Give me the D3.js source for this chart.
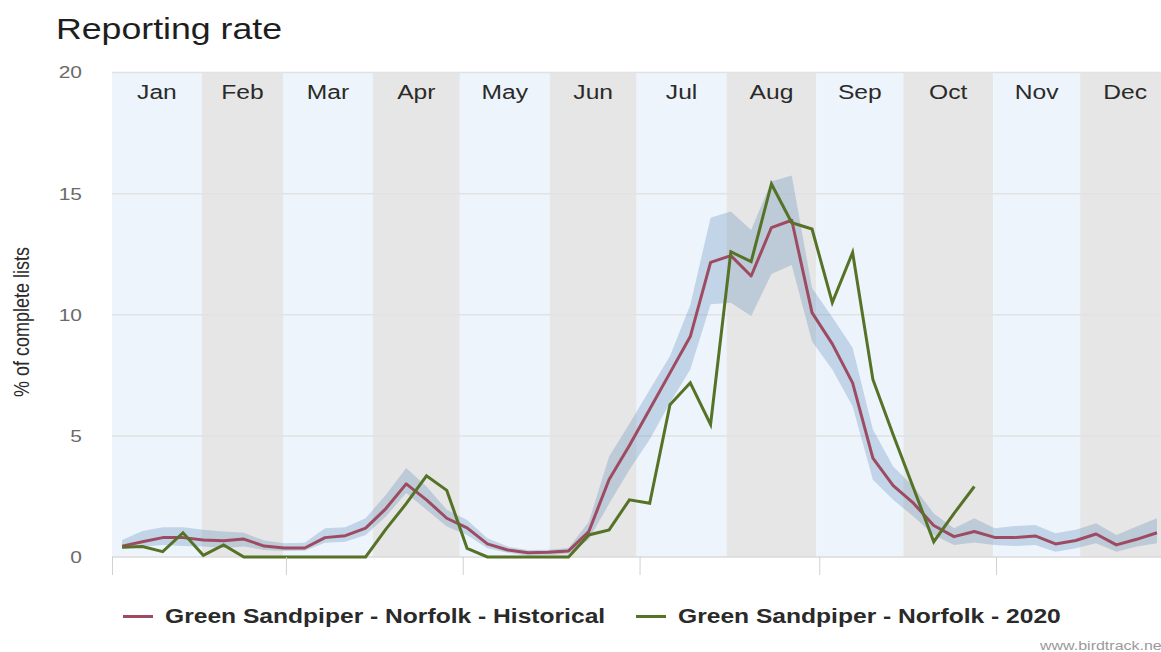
<!DOCTYPE html>
<html>
<head>
<meta charset="utf-8">
<script src="https://cdn.jsdelivr.net/npm/d3@7"></script>
<style>
  body { margin: 0; background: #fff; }
  svg { display: block; }
  text { font-family: "Liberation Sans", Arial, sans-serif; }
</style>
</head>
<body>
<svg id="chart" width="1161" height="652"></svg>
<script>
// Month bands (day-of-year boundaries) and labels
const months = ["Jan", "Feb", "Mar", "Apr", "May", "Jun", "Jul", "Aug", "Sep", "Oct", "Nov", "Dec"];
const monthStartDay = [0, 31, 59, 90, 120, 151, 181, 212, 243, 273, 304, 334, 365];

// Weekly reporting rate (% of complete lists), weeks 1..52
const weeks = d3.range(1, 53);
const historical = [
  0.45, 0.63, 0.80, 0.80, 0.70, 0.67, 0.74, 0.45, 0.37, 0.37,
  0.80, 0.88, 1.19, 2.00, 3.02, 2.36, 1.60, 1.20, 0.54, 0.29,
  0.18, 0.20, 0.25, 1.05, 3.20, 4.60, 6.10, 7.60, 9.10, 12.16,
  12.44, 11.60, 13.60, 13.90, 10.09, 8.80, 7.19, 4.08, 2.95, 2.22,
  1.30, 0.84, 1.05, 0.81, 0.80, 0.87, 0.54, 0.68, 0.95, 0.50,
  0.73, 1.00
];
const historicalUpper = [
  0.70, 1.07, 1.23, 1.23, 1.12, 1.05, 1.00, 0.68, 0.57, 0.59,
  1.19, 1.23, 1.60, 2.57, 3.67, 2.91, 1.95, 1.53, 0.77, 0.43,
  0.29, 0.30, 0.37, 1.45, 4.15, 5.50, 6.90, 8.30, 10.40, 14.00,
  14.26, 13.50, 15.50, 15.75, 11.10, 9.90, 8.64, 5.26, 3.74, 2.91,
  1.80, 1.19, 1.60, 1.19, 1.28, 1.32, 0.98, 1.12, 1.39, 0.91,
  1.26, 1.60
];
const historicalLower = [
  0.33, 0.43, 0.50, 0.45, 0.43, 0.37, 0.43, 0.29, 0.25, 0.26,
  0.59, 0.63, 0.91, 1.67, 2.64, 1.95, 1.26, 0.91, 0.36, 0.18,
  0.05, 0.08, 0.14, 0.72, 2.20, 3.60, 4.85, 6.37, 7.74, 10.43,
  10.50, 9.95, 11.68, 12.05, 8.90, 7.74, 6.22, 3.19, 2.36, 1.67,
  0.91, 0.50, 0.60, 0.50, 0.45, 0.50, 0.22, 0.36, 0.57, 0.22,
  0.43, 0.57
];
const year2020 = [
  0.40, 0.43, 0.22, 1.00, 0.07, 0.50, 0.00, 0.00, 0.00, 0.00,
  0.00, 0.00, 0.00, 1.15, 2.20, 3.35, 2.75, 0.36, 0.00, 0.00,
  0.00, 0.00, 0.00, 0.91, 1.12, 2.36, 2.22, 6.29, 7.19, 5.47,
  12.60, 12.19, 15.40, 13.80, 13.54, 10.50, 12.57, 7.33, 5.05, 2.85,
  0.63, 1.80, 2.91
];

const yTicks = [0, 5, 10, 15, 20];
const xTickDays = [0, 60, 121, 182, 244, 305];

const seriesNames = [
  "Green Sandpiper - Norfolk - Historical",
  "Green Sandpiper - Norfolk - 2020"
];
const colors = { historical: "#9e4b61", y2020: "#557226", band: "#5283b4" };

const svg = d3.select("#chart");
const W = 1161, H = 652;
svg.append("rect").attr("width", W).attr("height", H).attr("fill", "#fff");

const x = d3.scaleLinear().domain([0, 365]).range([112, 1170]);
const y = d3.scaleLinear().domain([0, 20]).range([557, 72.5]);
const weekDay = w => (w - 1) * 7 + 3.5;

// Horizontal stretch applied to the text
const STRETCH = 1.23;
function stretch(sel) {
  sel.each(function () {
    const len = this.getComputedTextLength();
    d3.select(this).attr("textLength", len * STRETCH).attr("lengthAdjust", "spacingAndGlyphs");
  });
}

const plot = svg.append("g");

// Alternating month background bands
plot.selectAll("rect.month")
  .data(months)
  .join("rect")
  .attr("class", "month")
  .attr("x", (d, i) => x(monthStartDay[i]))
  .attr("width", (d, i) => x(monthStartDay[i + 1]) - x(monthStartDay[i]))
  .attr("y", y(20))
  .attr("height", y(0) - y(20))
  .attr("fill", (d, i) => i % 2 === 0 ? "#edf4fb" : "#e6e6e6");

// Grid lines
plot.selectAll("line.grid")
  .data(yTicks)
  .join("line")
  .attr("class", "grid")
  .attr("x1", x(0)).attr("x2", W)
  .attr("y1", d => y(d)).attr("y2", d => y(d))
  .attr("stroke", d => d === 0 ? "#dadada" : "#e2e2e2")
  .attr("stroke-width", 1.5);

// Month labels
plot.selectAll("text.month")
  .data(months)
  .join("text")
  .attr("class", "month")
  .attr("x", (d, i) => (x(monthStartDay[i]) + x(monthStartDay[i + 1])) / 2)
  .attr("y", 99)
  .attr("text-anchor", "middle")
  .attr("font-size", 20)
  .attr("fill", "#2a2a2a")
  .text(d => d)
  .call(stretch);

// Confidence band for the historical series
const area = d3.area()
  .x((d, i) => x(weekDay(weeks[i])))
  .y0((d, i) => y(historicalLower[i]))
  .y1((d, i) => y(historicalUpper[i]));
plot.append("path")
  .datum(historical)
  .attr("d", area)
  .attr("fill", colors.band)
  .attr("fill-opacity", 0.28);

const line = d3.line()
  .x((d, i) => x(weekDay(weeks[i])))
  .y(d => y(d));

plot.append("path")
  .datum(historical)
  .attr("d", line)
  .attr("fill", "none")
  .attr("stroke", colors.historical)
  .attr("stroke-width", 3)
  .attr("stroke-linejoin", "round");

plot.append("path")
  .datum(year2020)
  .attr("d", line)
  .attr("fill", "none")
  .attr("stroke", colors.y2020)
  .attr("stroke-width", 3)
  .attr("stroke-linejoin", "miter");

// X axis: unlabelled ticks every two months
const xAxis = svg.append("g")
  .attr("transform", `translate(0,${y(0)})`)
  .call(d3.axisBottom(x).tickValues(xTickDays).tickFormat("").tickSize(18));
xAxis.select(".domain").remove();
xAxis.selectAll(".tick line").attr("stroke", "#d0d0d0");

// Y axis labels
const yAxis = svg.append("g")
  .attr("transform", `translate(${x(0)},0)`)
  .call(d3.axisLeft(y).tickValues(yTicks).tickSize(0).tickPadding(30));
yAxis.select(".domain").remove();
yAxis.selectAll(".tick text")
  .attr("font-size", 17)
  .attr("fill", "#6a6a6a")
  .attr("font-family", "Liberation Sans, Arial, sans-serif")
  .call(stretch);

// Y axis title (glyph height widened to match the horizontal text stretch)
svg.append("text")
  .attr("transform", `translate(29,322) rotate(-90) scale(1,${STRETCH})`)
  .attr("x", 0)
  .attr("y", 0)
  .attr("text-anchor", "middle")
  .attr("font-size", 18)
  .attr("fill", "#2a2a2a")
  .text("% of complete lists");

// Title
svg.append("text")
  .attr("x", 56)
  .attr("y", 39)
  .attr("font-size", 29)
  .attr("fill", "#1e1e1e")
  .text("Reporting rate")
  .call(stretch);

// Legend
const legendItems = [
  { name: seriesNames[0], color: colors.historical, x: 123 },
  { name: seriesNames[1], color: colors.y2020, x: 636 }
];
const legend = svg.append("g");
legendItems.forEach(item => {
  legend.append("line")
    .attr("x1", item.x).attr("x2", item.x + 30)
    .attr("y1", 616.5).attr("y2", 616.5)
    .attr("stroke", item.color)
    .attr("stroke-width", 3);
  legend.append("text")
    .attr("x", item.x + 42)
    .attr("y", 623)
    .attr("font-size", 20)
    .attr("font-weight", "bold")
    .attr("fill", "#2a2a2a")
    .text(item.name)
    .call(stretch);
});

// Source credit
svg.append("text")
  .attr("x", 1040)
  .attr("y", 650)
  .attr("font-size", 13)
  .attr("fill", "#9a9a9a")
  .text("www.birdtrack.net")
  .call(stretch);
</script>
</body>
</html>
